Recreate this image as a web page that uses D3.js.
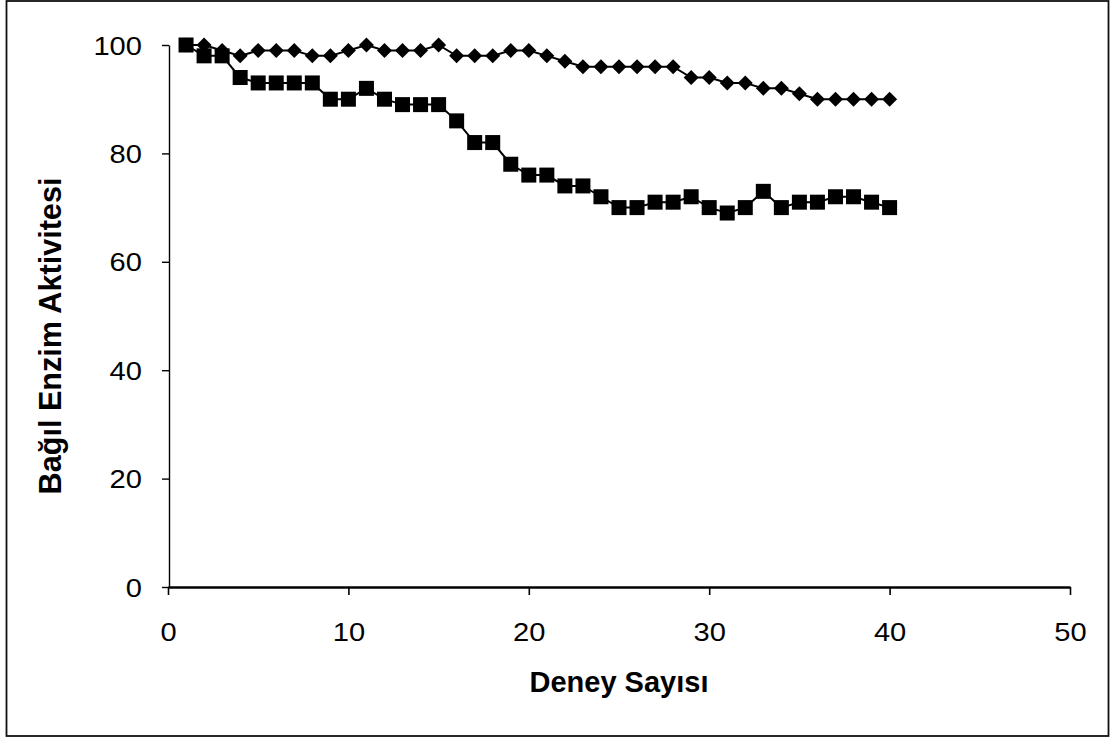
<!DOCTYPE html>
<html>
  <head>
    <meta charset="utf-8">
    <title>Bağıl Enzim Aktivitesi</title>
    <script src="https://d3js.org/d3.v7.min.js" charset="utf-8"></script>
    <style>
      body{
        margin: 0;
        background: white;
        font-family: 'Liberation Sans', Arial, sans-serif;
      }
      .tick text{
        font-family: 'Liberation Sans', Arial, sans-serif;
        font-size: 26px;
        fill: black;
        transform-box: fill-box;
        transform: scaleX(1.12);
      }
      .x-axis .tick text{
        transform-origin: center;
      }
      .y-axis .tick text{
        transform-origin: right center;
      }
      .axis-title{
        font-family: 'Liberation Sans', Arial, sans-serif;
        font-weight: 700;
        fill: black;
      }
    </style>
  </head>
  <body>
    <div id="chart"></div>
    <script>

    //********************
    // data
    //********************

    var trials = d3.range(1, 41);

    var diamondValues = [100, 100, 99, 98, 99, 99, 99, 98, 98, 99,
                         100, 99, 99, 99, 100, 98, 98, 98, 99, 99,
                         98, 97, 96, 96, 96, 96, 96, 96, 94, 94,
                         93, 93, 92, 92, 91, 90, 90, 90, 90, 90];

    var squareValues = [100, 98, 98, 94, 93, 93, 93, 93, 90, 90,
                        92, 90, 89, 89, 89, 86, 82, 82, 78, 76,
                        76, 74, 74, 72, 70, 70, 71, 71, 72, 70,
                        69, 70, 73, 70, 71, 71, 72, 72, 71, 70];

    var xTicks = [0, 10, 20, 30, 40, 50];
    var yTicks = [0, 20, 40, 60, 80, 100];

    var xTitle = "Deney Sayısı";
    var yTitle = "Bağıl Enzim Aktivitesi";


    //********************
    // setup, scales
    //********************

    var width = 1112,
        height = 740,
        margin = {
            top: 45,
            right: 42,
            bottom: 153,
            left: 168
        };

    var svg = d3.select("#chart").append("svg")
        .attr("width", width)
        .attr("height", height);

    // outer frame
    svg.append("rect")
        .attr("x", 6.5)
        .attr("y", 1)
        .attr("width", 1102)
        .attr("height", 735)
        .attr("fill", "none")
        .attr("stroke", "#111")
        .attr("stroke-width", 1.8);

    var xScale = d3.scaleLinear().domain([0, 50]).range([margin.left, width - margin.right]);
    var yScale = d3.scaleLinear().domain([0, 100]).range([height - margin.bottom, margin.top]);

    var xAxis = svg.append("g").attr("class", "x-axis")
        .attr("transform", `translate(0, ${height - margin.bottom})`)
        .call(d3.axisBottom(xScale)
            .tickValues(xTicks)
            .tickSize(8)
            .tickPadding(28)
            .tickSizeOuter(0));

    xAxis.select(".domain").attr("stroke", "black").attr("stroke-width", 2.6);
    xAxis.selectAll(".tick line").attr("stroke", "black").attr("stroke-width", 1.6);

    var yAxis = svg.append("g").attr("class", "y-axis")
        .attr("transform", `translate(${margin.left + 1}, 0)`)
        .call(d3.axisLeft(yScale)
            .tickValues(yTicks)
            .tickSize(7)
            .tickPadding(20)
            .tickSizeOuter(0));

    yAxis.select(".domain").attr("stroke", "black").attr("stroke-width", 1.4);
    yAxis.selectAll(".tick line").attr("stroke", "black").attr("stroke-width", 1.4);
    yAxis.selectAll(".tick text").attr("dy", "0.35em");

    d3.selectAll(".tick text").attr("font-size", null).attr("font-family", null);

    // axis titles
    svg.append("text")
        .attr("class", "axis-title")
        .attr("x", xScale(25))
        .attr("y", 692)
        .attr("text-anchor", "middle")
        .style("font-size", "29px")
        .text(xTitle);

    svg.append("text")
        .attr("class", "axis-title")
        .attr("transform", "translate(61, 336) rotate(-90)")
        .attr("text-anchor", "middle")
        .style("font-size", "30.6px")
        .text(yTitle);


    //**************
    // lines
    //**************

    var line = d3.line()
        .x((d, i) => xScale(trials[i]))
        .y(d => yScale(d));

    svg.append("path")
        .datum(diamondValues)
        .attr("fill", "none")
        .attr("stroke", "black")
        .attr("stroke-width", 2)
        .attr("d", line);

    svg.append("path")
        .datum(squareValues)
        .attr("fill", "none")
        .attr("stroke", "black")
        .attr("stroke-width", 2)
        .attr("d", line);


    //**************
    // markers
    //**************

    svg.append("g").selectAll("path.diamond")
        .data(diamondValues)
        .enter().append("path")
        .attr("class", "diamond")
        .attr("transform", (d, i) => `translate(${xScale(trials[i])}, ${yScale(d)})`)
        .attr("d", "M0,-7.5L7.5,0L0,7.5L-7.5,0Z")
        .attr("fill", "black");

    svg.append("g").selectAll("rect.square")
        .data(squareValues)
        .enter().append("rect")
        .attr("class", "square")
        .attr("x", (d, i) => xScale(trials[i]) - 7.5)
        .attr("y", d => yScale(d) - 7.5)
        .attr("width", 15)
        .attr("height", 15)
        .attr("fill", "black");

    </script>
  </body>
</html>
